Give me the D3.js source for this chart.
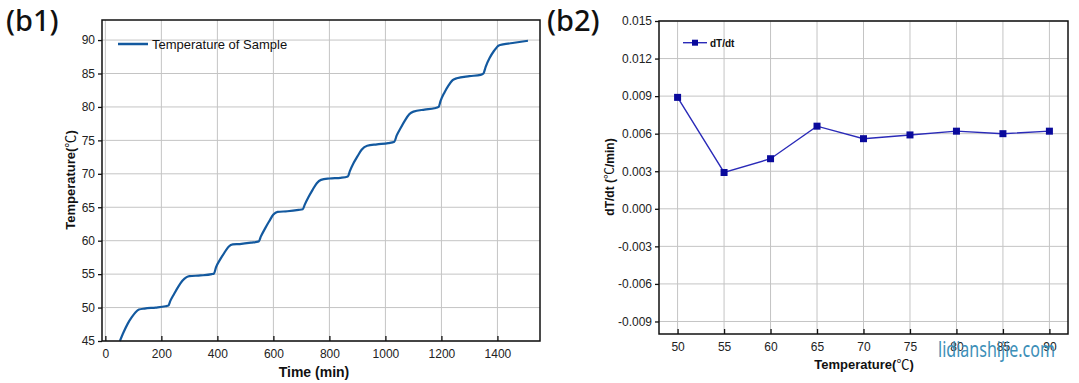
<!DOCTYPE html>
<html>
<head>
<meta charset="utf-8">
<script src="https://cdn.jsdelivr.net/npm/d3@7"></script>
<style>
  body { margin: 0; background: #fff; }
  svg { display: block; font-family: "Liberation Sans", Arial, sans-serif; }
  .tick text { fill: #222; }
  .cjk { font-family: "Noto Sans CJK SC", sans-serif; font-weight: normal; }
</style>
</head>
<body>
<svg id="chart" width="1079" height="383"></svg>
<script>
// (b1) temperature of sample vs time
const sampleTime = [52, 65, 80, 95, 108, 120, 140, 180, 215, 225, 232, 245, 260, 275, 290, 300, 340, 380, 388,
  395, 410, 425, 440, 455, 480, 520, 548, 555, 570, 585, 600, 615, 650, 690, 705, 712, 725, 740, 755, 770,
  800, 840, 866, 873, 885, 900, 915, 935, 970, 1010, 1032, 1040, 1055, 1070, 1085, 1100, 1140, 1175, 1190,
  1197, 1210, 1225, 1240, 1255, 1300, 1340, 1350, 1358, 1372, 1388, 1405, 1420, 1460, 1509];
const sampleTemp = [45.0, 46.3, 47.6, 48.6, 49.3, 49.7, 49.85, 50.0, 50.2, 50.3, 51.0, 52.0, 53.1, 54.0, 54.55, 54.7, 54.8, 55.0, 55.1,
  56.0, 57.2, 58.2, 59.1, 59.45, 59.5, 59.7, 59.9, 60.6, 61.8, 62.9, 63.9, 64.3, 64.4, 64.6, 64.7, 65.4, 66.5, 67.6, 68.6, 69.1,
  69.3, 69.4, 69.6, 70.4, 71.5, 72.6, 73.6, 74.2, 74.4, 74.6, 74.8, 75.7, 76.9, 78.0, 78.9, 79.3, 79.6, 79.8, 80.0,
  80.9, 82.1, 83.2, 84.0, 84.3, 84.6, 84.8, 85.0, 86.0, 87.3, 88.4, 89.2, 89.35, 89.6, 89.9];
const timeTicks = [0, 200, 400, 600, 800, 1000, 1200, 1400];
const tempTicks = [45, 50, 55, 60, 65, 70, 75, 80, 85, 90];

// (b2) dT/dt vs temperature
const rateTemp = [50, 55, 60, 65, 70, 75, 80, 85, 90];
const rateValue = [0.0089, 0.0029, 0.0040, 0.0066, 0.0056, 0.0059, 0.0062, 0.0060, 0.0062];
const rateTicks = [-0.009, -0.006, -0.003, 0, 0.003, 0.006, 0.009, 0.012, 0.015];

const svg = d3.select('#chart');

function frame(x0, x1, y0, y1) {
  svg.append('rect')
    .attr('x', x0).attr('y', y0)
    .attr('width', x1 - x0).attr('height', y1 - y0)
    .attr('fill', 'none')
    .attr('stroke', '#111')
    .attr('stroke-width', 1.5);
}

function grid(x, y, xt, yt) {
  const [x0, x1] = x.range();
  const [y1, y0] = y.range();
  const g = svg.append('g').attr('stroke', '#c4c4c4').attr('stroke-width', 1);
  g.selectAll('.gx').data(xt).enter().append('line')
    .attr('x1', d => x(d)).attr('x2', d => x(d))
    .attr('y1', y0).attr('y2', y1);
  g.selectAll('.gy').data(yt).enter().append('line')
    .attr('x1', x0).attr('x2', x1)
    .attr('y1', d => y(d)).attr('y2', d => y(d));
}

function axes(x, y, xt, yt, yfmt) {
  const [y1] = y.range();
  const [x0] = x.range();
  const xa = svg.append('g')
    .attr('transform', `translate(0,${y1})`)
    .call(d3.axisBottom(x).tickValues(xt).tickFormat(d => String(d))
      .tickSizeInner(-5).tickSizeOuter(0).tickPadding(8));
  const ya = svg.append('g')
    .attr('transform', `translate(${x0},0)`)
    .call(d3.axisLeft(y).tickValues(yt).tickFormat(yfmt).tickSizeInner(4).tickSizeOuter(0).tickPadding(3));
  [xa, ya].forEach(a => {
    a.select('.domain').remove();
    a.selectAll('.tick line').attr('stroke', '#111').attr('stroke-width', 1.3);
    a.selectAll('.tick text').attr('font-size', 12).attr('font-family', '"Liberation Sans", Arial, sans-serif');
  });
}

function title(t, text, size, extra) {
  const el = svg.append('text')
    .attr('text-anchor', 'middle')
    .attr('font-size', size).attr('font-weight', 'bold').attr('fill', '#111');
  if (t.rotate) el.attr('transform', `translate(${t.x},${t.y}) rotate(-90)`);
  else el.attr('x', t.x).attr('y', t.y);
  el.append('tspan').text(text);
  if (extra) {
    el.append('tspan').attr('class', 'cjk').text('℃');
    el.append('tspan').text(extra);
  }
  return el;
}

// ---------- b1 ----------
const x1 = d3.scaleLinear().domain([-12, 1552]).range([102, 540]);
const y1 = d3.scaleLinear().domain([45, 93]).range([341, 20]);

grid(x1, y1, timeTicks, tempTicks);

const line1 = d3.line()
  .x((d, i) => x1(sampleTime[i]))
  .y(d => y1(d))
  .curve(d3.curveMonotoneX);

svg.append('path')
  .datum(sampleTemp)
  .attr('d', line1)
  .attr('fill', 'none')
  .attr('stroke', '#13599f')
  .attr('stroke-width', 2.2);

frame(102, 540, 20, 341);
axes(x1, y1, timeTicks, tempTicks, d => d);

svg.append('line')
  .attr('x1', 118).attr('x2', 148).attr('y1', 44).attr('y2', 44)
  .attr('stroke', '#13599f').attr('stroke-width', 2.5);
svg.append('text')
  .attr('x', 152).attr('y', 49)
  .attr('font-size', 13).attr('fill', '#111')
  .text('Temperature of Sample');

title({x: 75, y: 180, rotate: true}, 'Temperature(', 13, ')');
title({x: 314, y: 377}, 'Time (min)', 14);

// ---------- b2 ----------
const x2 = d3.scaleLinear().domain([48, 92]).range([659, 1068]);
const y2 = d3.scaleLinear().domain([-0.010, 0.015]).range([334, 21]);

grid(x2, y2, rateTemp, rateTicks);

const line2 = d3.line()
  .x((d, i) => x2(rateTemp[i]))
  .y(d => y2(d));

svg.append('path')
  .datum(rateValue)
  .attr('d', line2)
  .attr('fill', 'none')
  .attr('stroke', '#2a2ab8')
  .attr('stroke-width', 1.4);

svg.selectAll('.pt').data(rateValue).enter().append('rect')
  .attr('x', (d, i) => x2(rateTemp[i]) - 3.5)
  .attr('y', d => y2(d) - 3.5)
  .attr('width', 7).attr('height', 7)
  .attr('fill', '#0a0a9c');

frame(659, 1068, 21, 334);
axes(x2, y2, rateTemp, rateTicks, d => d.toFixed(3));

svg.append('line')
  .attr('x1', 683).attr('x2', 707).attr('y1', 42.7).attr('y2', 42.7)
  .attr('stroke', '#2a2ab8').attr('stroke-width', 1.4);
svg.append('rect')
  .attr('x', 692).attr('y', 39.7).attr('width', 6).attr('height', 6)
  .attr('fill', '#0a0a9c');
svg.append('text')
  .attr('x', 710).attr('y', 46.5)
  .attr('font-size', 10).attr('font-weight', 'bold').attr('fill', '#111')
  .text('dT/dt');

title({x: 614, y: 177, rotate: true}, 'dT/dt (', 12, '/min)');
title({x: 864, y: 369}, 'Temperature(', 13, ')');

// ---------- panel labels & watermark ----------
svg.append('text')
  .attr('x', 6).attr('y', 31)
  .attr('font-family', '"Noto Sans", sans-serif')
  .attr('font-size', 29).attr('font-weight', 500).attr('fill', '#111')
  .text('(b1)');
svg.append('text')
  .attr('x', 547).attr('y', 31)
  .attr('font-family', '"Noto Sans", sans-serif')
  .attr('font-size', 29).attr('font-weight', 500).attr('fill', '#111')
  .text('(b2)');
svg.append('text')
  .attr('x', 938).attr('y', 357)
  .attr('font-family', '"Noto Sans", sans-serif')
  .attr('font-size', 22).attr('fill', '#3d8fb8')
  .attr('textLength', 117).attr('lengthAdjust', 'spacingAndGlyphs')
  .text('lidianshijie.com');
</script>
</body>
</html>
